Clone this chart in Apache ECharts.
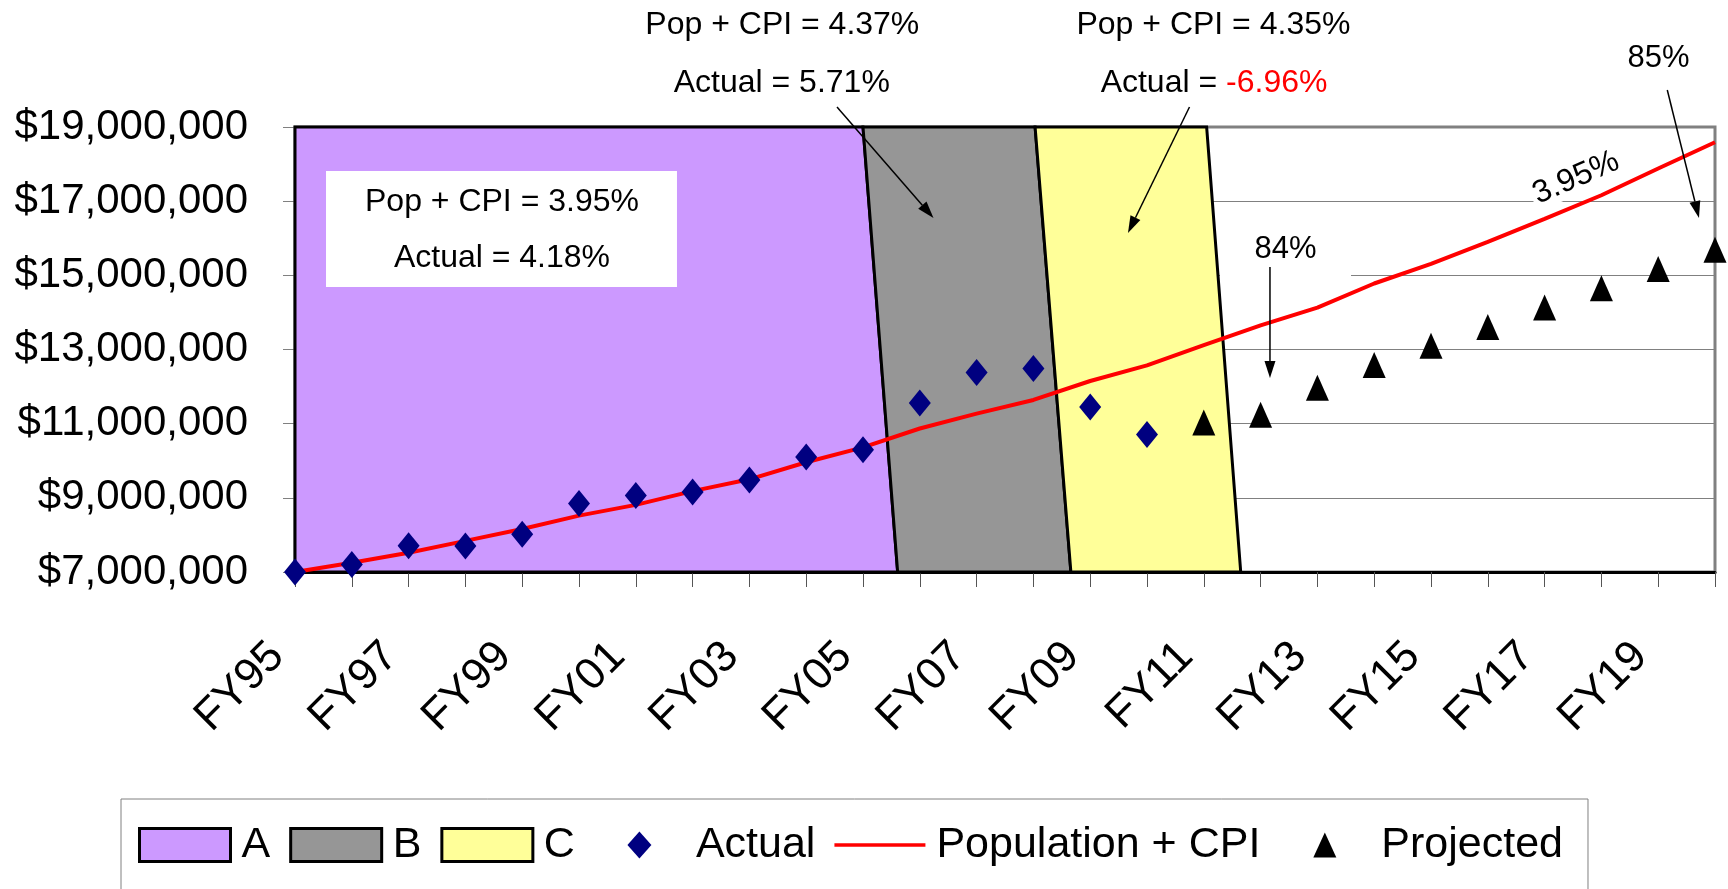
<!DOCTYPE html>
<html>
<head>
<meta charset="utf-8">
<script src="https://cdn.jsdelivr.net/npm/echarts@6/dist/echarts.min.js"></script>
<style>
html,body{margin:0;padding:0;background:#fff;}
#c{width:1728px;height:889px;}
</style>
</head>
<body>
<div id="c"></div>
<script>
// ---------- data ----------
const categories = ['FY95','FY96','FY97','FY98','FY99','FY00','FY01','FY02','FY03','FY04','FY05',
  'FY06','FY07','FY08','FY09','FY10','FY11','FY12','FY13','FY14','FY15','FY16','FY17','FY18','FY19','FY20'];

const actual = [7000000, 7200000, 7710000, 7700000, 8020000, 8850000, 9060000, 9160000, 9480000, 10100000,
  10300000, 11560000, 12380000, 12490000, 11450000, 10710000,
  null, null, null, null, null, null, null, null, null, null];

const projected = [null, null, null, null, null, null, null, null, null, null, null, null, null, null, null, null,
  11030000, 11240000, 11970000, 12580000, 13100000, 13610000, 14130000, 14650000, 15170000, 15690000];

const popCpi = [7000000, 7250000, 7520000, 7840000, 8160000, 8520000, 8810000, 9180000, 9500000, 9960000,
  10360000, 10870000, 11270000, 11640000, 12150000, 12570000, 13120000, 13650000, 14130000, 14780000,
  15310000, 15900000, 16520000, 17160000, 17880000, 18590000];

// period bands: [top-left, top-right, bottom-left, bottom-right] in category-index units
const bandA = [0, 10, 0, 10.61];
const bandB = [10, 13.03, 10.61, 13.66];
const bandC = [13.03, 16.05, 13.66, 16.65];

const yMin = 7000000, yMax = 19000000, yStep = 2000000;

// annotation anchors in data units [category index, dollars]
const noteTexts = [
  {text: 'Pop + CPI = 4.37%', at: [8.58, 21750000]},
  {text: 'Actual = 5.71%', at: [8.57, 20190000]},
  {text: 'Pop + CPI = 4.35%', at: [16.17, 21750000]},
  {text: '{b|Actual = }{r|-6.96%}', at: [16.18, 20190000], rich: true},
  {text: 'Pop + CPI = 3.95%', at: [3.644, 16977000]},
  {text: 'Actual = 4.18%', at: [3.644, 15467000]}
];
const noteBox = [[0.546, 17813000], [6.725, 14685000]];
const noteArrows = [
  [[9.542, 19540000], [11.241, 16546000]],
  [[15.748, 19540000], [14.665, 16142000]],
  [[17.165, 15225000], [17.165, 12231000]],
  [[24.16, 19998000], [24.718, 16546000]]
];
const pctLabels = [
  {text: '84%', at: [17.438, 15710000]},
  {text: '85%', at: [24.007, 20861000]}
];
const pct84Box = [[16.285, 16330000], [18.592, 14685000]];
const slopeLabel = {text: '3.95%', at: [22.553, 17625000], angle: 23.4};

// ---------- chart ----------
const FONT = "'Liberation Sans', Arial, Helvetica, sans-serif";
const chart = echarts.init(document.getElementById('c'), null, {renderer: 'canvas'});

function bandSeries(name, color, edges) {
  return {
    type: 'custom', name: name, xAxisIndex: 1, yAxisIndex: 0, z: 2, clip: false,
    itemStyle: {color: color},
    data: [edges],
    renderItem: function (params, api) {
      const pts = [
        api.coord([api.value(0), yMax]),
        api.coord([api.value(1), yMax]),
        api.coord([api.value(3), yMin]),
        api.coord([api.value(2), yMin])
      ];
      return {type: 'polygon', shape: {points: pts},
        style: {fill: color, stroke: '#000', lineWidth: 3, lineJoin: 'miter'}};
    }
  };
}

const money = v => '$' + String(Math.round(v)).replace(/\B(?=(\d{3})+(?!\d))/g, ',');

const option = {
  animation: false,
  backgroundColor: '#fff',
  textStyle: {fontFamily: FONT},
  grid: {left: 295, right: 13, top: 127, bottom: 317, show: true, borderColor: '#808080', borderWidth: 3,
    backgroundColor: 'transparent', containLabel: false, outerBoundsMode: 'none'},
  xAxis: [
    {type: 'category', data: categories, boundaryGap: false,
      axisLine: {show: true, lineStyle: {color: '#000', width: 3}},
      axisTick: {show: true, interval: 0, length: 15, lineStyle: {color: '#555', width: 1}},
      axisLabel: {interval: 1, rotate: 45, fontSize: 44, margin: 60, padding: [0, 25, 0, 0],
        color: '#000', fontFamily: FONT},
      splitLine: {show: false}},
    {type: 'value', min: 0, max: categories.length - 1, show: false}
  ],
  yAxis: {type: 'value', min: yMin, max: yMax, interval: yStep,
    axisLine: {show: false},
    axisTick: {show: true, length: 12, lineStyle: {color: '#808080', width: 1}},
    axisLabel: {fontSize: 42, margin: 47, color: '#000', fontFamily: FONT, formatter: money},
    splitLine: {show: true, lineStyle: {color: '#808080', width: 1}}},
  legend: {
    left: 121, top: 799, orient: 'horizontal',
    padding: [24, 25, 70, 17],
    borderColor: '#808080', borderWidth: 1,
    itemWidth: 91, itemHeight: 33, itemGap: 19,
    selectedMode: false,
    textStyle: {fontSize: 43, color: '#000', fontFamily: FONT, lineHeight: 44, padding: [0, 0, 0, 6]},
    data: [
      {name: 'A', icon: 'rect', itemStyle: {color: '#CC99FF', borderColor: '#000', borderWidth: 3}},
      {name: 'B', icon: 'rect', itemStyle: {color: '#969696', borderColor: '#000', borderWidth: 3}},
      {name: 'C', icon: 'rect', itemStyle: {color: '#FFFF99', borderColor: '#000', borderWidth: 3}},
      {name: 'Actual', icon: 'path://M0,0M91,33M45.5,3L57.5,16.5L45.5,30L33.5,16.5Z'},
      {name: 'Population + CPI', icon: 'path://M0,0M91,33M0,14.75L91,14.75L91,18.25L0,18.25Z'},
      {name: 'Projected', icon: 'path://M0,0M91,33M45.5,4L57,29L34,29Z'}
    ]
  },
  series: [
    bandSeries('A', '#CC99FF', bandA),
    bandSeries('B', '#969696', bandB),
    bandSeries('C', '#FFFF99', bandC),
    {type: 'scatter', name: 'Actual', xAxisIndex: 0, yAxisIndex: 0, z: 4,
      symbol: 'diamond', symbolSize: [22, 27], itemStyle: {color: '#000080', opacity: 1},
      data: actual.map((v, i) => v == null ? null : [i, v]).filter(d => d)},
    {type: 'line', name: 'Population + CPI', xAxisIndex: 0, yAxisIndex: 0, z: 3,
      data: popCpi, symbol: 'none', showSymbol: false,
      lineStyle: {color: '#FF0000', width: 4}, itemStyle: {color: '#FF0000', opacity: 1}},
    {type: 'scatter', name: 'Projected', xAxisIndex: 0, yAxisIndex: 0, z: 4,
      symbol: 'triangle', symbolSize: [23, 26], itemStyle: {color: '#000', opacity: 1},
      data: projected.map((v, i) => v == null ? null : [i, v]).filter(d => d)}
  ]
};
chart.setOption(option);

// ---------- annotations placed through the chart's scales ----------
const toPx = p => chart.convertToPixel({xAxisIndex: 1, yAxisIndex: 0}, p);
const g = [];
function arrow(from, to) {
  const a = toPx(from), b = toPx(to);
  const dx = b[0] - a[0], dy = b[1] - a[1], len = Math.hypot(dx, dy);
  const ux = dx / len, uy = dy / len, hl = 17, hw = 5.5;
  const base = [b[0] - ux * hl, b[1] - uy * hl];
  g.push({type: 'line', z: 10, shape: {x1: a[0], y1: a[1], x2: base[0], y2: base[1]},
    style: {stroke: '#000', lineWidth: 1.5}});
  g.push({type: 'polygon', z: 10, shape: {points: [b, [base[0] - uy * hw, base[1] + ux * hw], [base[0] + uy * hw, base[1] - ux * hw]]},
    style: {fill: '#000'}});
}
const b0 = toPx(noteBox[0]), b1 = toPx(noteBox[1]);
g.push({type: 'rect', z: 9, shape: {x: b0[0], y: b0[1], width: b1[0] - b0[0], height: b1[1] - b0[1]}, style: {fill: '#fff'}});
const c0 = toPx(pct84Box[0]), c1 = toPx(pct84Box[1]);
g.push({type: 'rect', z: 1, shape: {x: c0[0], y: c0[1], width: c1[0] - c0[0], height: c1[1] - c0[1]}, style: {fill: '#fff'}});
noteTexts.forEach(t => {
  const p = toPx(t.at);
  const st = {text: t.text, fontSize: 32, fontFamily: FONT, fill: '#000', align: 'center', verticalAlign: 'middle'};
  if (t.rich) st.rich = {b: {fill: '#000', fontSize: 32, fontFamily: FONT}, r: {fill: '#FF0000', fontSize: 32, fontFamily: FONT}};
  g.push({type: 'text', z: 10, x: p[0], y: p[1], style: st});
});
pctLabels.forEach(t => {
  const p = toPx(t.at);
  g.push({type: 'text', z: 10, x: p[0], y: p[1],
    style: {text: t.text, fontSize: 31, fontFamily: FONT, fill: '#000', align: 'center', verticalAlign: 'middle'}});
});
{
  const p = toPx(slopeLabel.at);
  g.push({type: 'text', z: 1, x: p[0], y: p[1], rotation: slopeLabel.angle * Math.PI / 180,
    style: {text: slopeLabel.text, fontSize: 32, fontFamily: FONT, fill: '#000', align: 'center', verticalAlign: 'middle',
      backgroundColor: '#fff', padding: [0, 3]}});
}
noteArrows.forEach(a => arrow(a[0], a[1]));
chart.setOption({graphic: {elements: g}});
</script>
</body>
</html>
